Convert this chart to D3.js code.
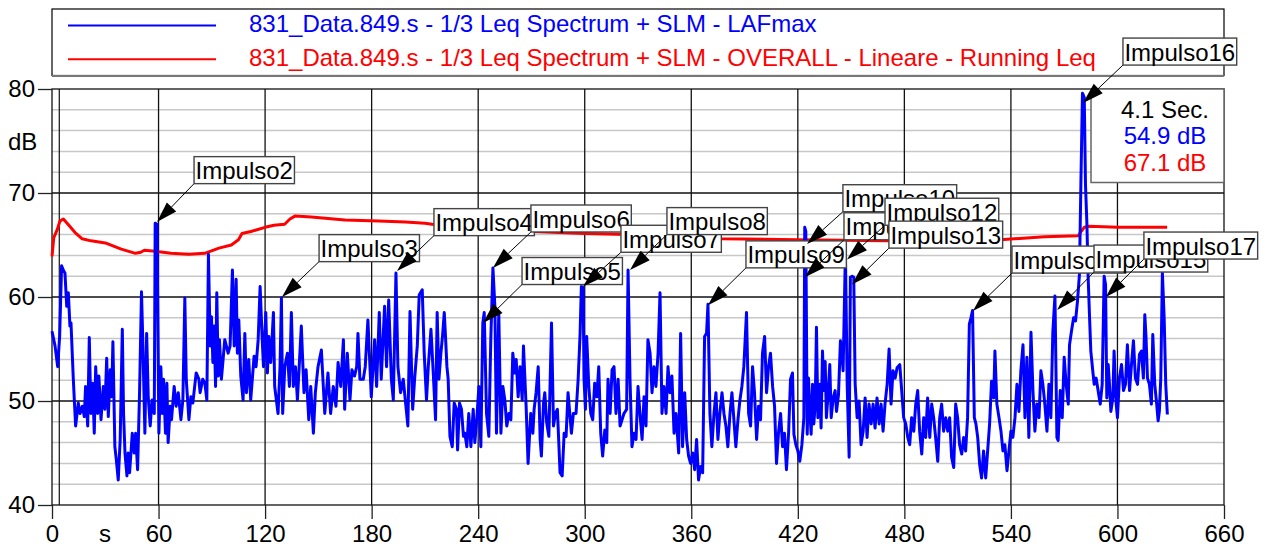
<!DOCTYPE html>
<html>
<head>
<meta charset="utf-8">
<style>

body {
  margin: 0;
  background-color: #fff;
}

svg {
  font-family: "Liberation Sans", Arial, sans-serif;
}

.grid-minor line {
  stroke: #c8c8c8;
  stroke-width: 1.5;
}

.grid-major line {
  stroke: #111;
  stroke-width: 1.3;
}

.axis path {
  display: none;
}

.axis line {
  stroke: #222;
  stroke-width: 1.3;
}

.axis text {
  font-size: 24px;
  fill: #000;
}

</style>
</head>
<body>
<svg width="1272" height="548"></svg>
<script src="https://d3js.org/d3.v7.min.js"></script>
<script>
// tick values
var xTicks = [0, 60, 120, 180, 240, 300, 360, 420, 480, 540, 600, 660];
var yTicks = [40, 50, 60, 70, 80];
var yMinor = [42, 44, 46, 48, 52, 54, 56, 58, 62, 64, 66, 68, 72, 74, 76, 78];

var seriesNames = [
  "831_Data.849.s - 1/3 Leq Spectrum + SLM - LAFmax",
  "831_Data.849.s - 1/3 Leq Spectrum + SLM - OVERALL - Lineare - Running Leq"
];
var seriesColors = ["#0000ff", "#ff0000"];

// LAFmax [s, dB]
var lafmax = [
[0,56.7],[1.7,55.3],[3.2,53.3],[4.3,56.2],[5.4,63.0],[6.6,62.5],[7.3,62.3],[8.3,59.1],[9.2,60.4],[10.1,57.2],
[10.7,57.5],[12.0,52.1],[13.3,47.6],[14.8,49.8],[15.8,48.8],[17.1,49.5],[18.2,48.5],[18.9,51.4],[20.1,47.6],[21.0,56.1],
[21.9,48.8],[22.9,51.7],[23.8,46.9],[24.6,53.3],[25.7,48.8],[26.4,52.4],[27.6,48.2],[28.9,51.4],[29.8,49.2],[30.8,54.1],
[31.7,48.5],[32.8,53.0],[33.6,50.4],[34.3,55.7],[35.4,45.6],[36.2,44.4],[37.3,42.4],[38.4,46.3],[39.6,56.9],[40.3,48.8],
[41.1,45.0],[42.2,42.8],[42.9,45.0],[43.7,43.1],[45.2,46.9],[46.3,45.0],[47.1,46.9],[48.2,43.4],[49.3,50.8],[50.4,60.5],
[51.2,55.3],[52.3,46.9],[53.3,56.5],[54.2,50.4],[55.3,47.6],[56.4,50.1],[57.6,48.8],[58.1,67.1],[59.1,67.0],[60.2,46.9],
[61.3,53.3],[62.1,48.8],[62.8,52.1],[63.9,46.9],[64.7,51.7],[65.4,46.0],[66.6,49.5],[67.3,48.2],[68.8,51.4],[69.9,49.5],
[71.1,50.8],[72.6,48.2],[73.7,50.1],[74.8,59.9],[75.6,52.1],[77.1,48.2],[78.2,50.4],[79.3,49.8],[81.2,52.7],[82.7,52.1],
[83.4,50.8],[84.9,52.1],[86.1,51.7],[87.2,50.1],[88.1,64.1],[89.1,55.3],[89.8,58.1],[90.6,53.7],[91.3,57.2],[92.1,51.4],
[92.8,60.4],[93.6,52.4],[94.3,55.9],[95.4,52.1],[97.3,55.9],[99.2,54.6],[100.3,55.3],[101.6,62.6],[102.6,55.3],[103.7,61.7],
[104.4,54.6],[105.2,57.8],[106.3,52.4],[107.6,50.1],[108.6,56.5],[109.5,50.8],[110.8,54.0],[111.9,50.1],[113.8,54.3],[114.9,53.3],
[116.1,55.9],[117.2,61.0],[118.3,56.2],[119.1,53.3],[120.4,58.5],[121.3,52.7],[122.1,56.2],[123.2,53.7],[124.7,58.5],[125.4,51.4],
[127.3,48.8],[128.4,53.3],[129.2,59.9],[129.9,48.8],[131.1,53.3],[132.6,54.6],[133.7,51.4],[134.8,58.5],[135.9,51.4],[137.1,53.3],
[138.2,50.1],[140.4,57.2],[141.9,50.8],[143.1,53.0],[144.6,48.2],[145.7,51.4],[147.2,46.9],[148.3,50.8],[149.8,53.3],[151.7,54.9],
[153.6,48.8],[155.4,52.7],[156.9,48.8],[158.4,51.4],[159.9,49.5],[161.1,53.7],[162.6,51.4],[164.1,55.9],[164.8,49.2],[166.3,54.6],
[167.8,50.1],[168.9,53.0],[170.4,52.4],[171.6,53.3],[172.3,56.5],[173.4,52.1],[175.3,52.1],[176.4,53.3],[177.9,57.8],[179.8,50.4],
[181.7,55.9],[182.8,51.4],[184.3,58.5],[185.4,52.1],[187.3,59.1],[188.4,53.3],[189.6,59.7],[191.1,52.1],[192.2,50.1],[193.7,62.3],
[194.8,53.3],[196.3,50.8],[197.8,52.1],[199.3,49.5],[200.4,47.6],[201.6,58.6],[203.1,49.2],[204.2,52.1],[205.7,55.3],[206.8,60.2],
[208.5,60.7],[209.6,54.6],[210.9,50.1],[211.9,53.3],[213.4,56.9],[214.7,52.7],[216.0,48.2],[216.9,58.5],[217.9,52.1],[219.0,54.6],
[219.9,56.2],[220.9,58.5],[221.6,56.2],[222.4,53.3],[223.1,52.1],[224.1,46.6],[225.4,45.6],[226.5,49.8],[227.8,49.2],[228.4,45.3],
[229.5,49.8],[230.6,49.2],[231.7,46.6],[232.5,46.9],[233.6,45.6],[234.7,48.8],[235.9,45.6],[237.2,49.2],[238.1,46.0],[239.2,48.2],
[240.4,51.4],[241.5,45.6],[242.6,57.5],[243.4,58.5],[244.7,48.8],[246.0,46.6],[247.1,55.9],[248.3,62.8],[249.4,59.1],[250.3,46.9],
[251.6,58.5],[252.8,46.9],[253.9,51.4],[255.0,50.1],[256.1,47.6],[257.3,48.8],[258.4,48.2],[259.5,54.6],[260.6,52.7],[261.4,54.0],
[262.5,50.4],[263.6,53.3],[264.8,50.1],[265.5,55.3],[267.0,49.5],[268.1,44.0],[269.6,48.8],[270.8,46.9],[271.5,49.2],[272.6,50.8],
[273.8,53.3],[274.9,46.3],[275.6,44.7],[276.8,49.8],[277.5,50.8],[278.6,47.9],[279.8,46.6],[281.3,57.5],[282.4,47.6],[283.5,48.8],
[284.6,49.2],[285.4,46.0],[286.1,43.1],[287.3,42.8],[288.4,46.9],[289.5,46.6],[290.6,50.8],[292.5,46.9],[293.6,48.8],[295.1,48.8],
[296.3,52.1],[297.4,56.5],[298.1,61.0],[299.1,60.9],[299.6,52.1],[300.4,49.2],[301.1,56.2],[302.3,51.4],[303.4,48.8],[304.5,48.2],
[305.6,51.7],[306.8,50.4],[307.9,53.3],[309.0,46.9],[310.1,44.7],[311.3,47.2],[312.4,46.0],[313.1,52.1],[314.3,48.8],[315.4,53.0],
[316.5,53.3],[317.6,48.8],[318.8,52.1],[319.9,47.6],[321.0,48.2],[322.1,48.8],[323.6,49.2],[324.4,62.6],[325.5,52.1],[326.6,45.6],
[327.8,46.9],[328.9,46.3],[330.0,51.4],[331.1,48.8],[332.3,46.3],[333.4,50.4],[334.5,47.6],[335.6,55.9],[336.8,54.6],[337.9,50.8],
[339.0,53.3],[340.1,51.4],[341.3,54.6],[342.4,60.4],[343.5,48.8],[344.6,51.4],[345.8,48.8],[346.9,53.3],[348.0,50.8],[349.1,52.4],
[350.3,46.9],[351.4,48.8],[352.9,45.0],[354.0,56.5],[355.1,45.6],[356.3,50.8],[357.4,46.3],[358.5,44.7],[359.6,44.0],[360.8,45.0],
[361.9,43.4],[363.0,46.3],[364.1,42.4],[365.3,43.7],[366.4,43.1],[367.5,56.2],[368.6,56.5],[369.4,59.3],[370.5,48.8],[371.6,45.6],
[372.8,48.8],[373.9,50.8],[375.0,46.3],[376.1,48.8],[377.3,50.8],[378.4,48.8],[379.5,47.6],[380.6,45.6],[381.8,48.8],[382.9,50.8],
[384.0,48.2],[385.1,45.6],[386.3,48.2],[387.4,50.1],[388.5,51.4],[389.6,53.3],[391.1,58.5],[392.3,48.8],[393.4,47.6],[394.5,53.3],
[395.6,50.8],[396.8,46.3],[397.9,49.5],[399.0,48.2],[400.1,54.6],[401.3,56.2],[402.4,50.8],[403.5,53.3],[404.6,54.6],[405.8,51.4],
[406.9,49.5],[408.0,44.0],[409.1,46.9],[410.3,48.8],[411.4,45.6],[412.5,46.9],[413.6,43.4],[414.8,46.9],[415.9,52.1],[417.0,52.7],
[417.8,46.8],[418.9,45.8],[420.0,45.2],[421.1,44.2],[422.3,45.8],[423.4,48.4],[423.9,66.7],[424.5,66.3],[425.3,46.8],[426.0,52.2],
[426.8,49.0],[427.5,46.8],[428.3,51.6],[429.0,47.8],[429.8,49.7],[430.5,57.1],[431.3,48.4],[432.4,51.6],[433.1,47.4],[433.9,54.8],
[434.6,51.0],[435.4,53.8],[436.1,48.4],[436.9,50.3],[438.0,53.5],[438.8,48.4],[439.9,50.3],[441.0,51.0],[441.8,49.0],[442.9,50.6],
[444.0,55.8],[444.8,54.8],[445.5,52.9],[446.8,64.3],[447.8,51.6],[448.9,44.6],[449.6,61.9],[450.6,62.0],[451.5,61.9],[452.3,51.6],
[453.4,48.4],[454.5,50.0],[455.6,45.8],[456.8,47.1],[457.9,50.3],[459.0,46.5],[460.1,49.7],[461.3,47.8],[462.4,49.7],[463.5,47.4],
[464.6,50.3],[465.8,47.8],[466.9,49.7],[468.0,47.1],[469.1,49.7],[470.3,51.6],[471.4,55.0],[472.5,49.7],[473.6,52.9],[474.8,52.2],
[475.9,53.2],[477.4,53.5],[478.5,51.0],[479.6,48.4],[480.8,47.8],[481.9,46.5],[483.0,45.8],[484.1,48.4],[485.3,47.1],[486.4,49.7],
[487.5,51.0],[488.6,47.1],[489.8,44.9],[490.9,48.4],[492.0,46.5],[493.1,50.3],[494.3,46.5],[495.4,49.7],[496.5,48.4],[497.6,46.5],
[498.8,44.2],[499.9,48.4],[501.0,49.7],[502.1,47.1],[503.3,48.4],[504.4,47.1],[505.5,48.4],[506.6,44.6],[507.8,43.6],[508.9,49.7],
[510.0,48.4],[511.1,45.8],[512.3,44.9],[513.4,46.5],[514.5,45.2],[515.6,48.4],[516.6,57.4],[517.5,58.0],[518.4,58.7],[519.4,48.4],
[520.3,47.8],[521.3,46.5],[522.4,43.9],[523.5,42.6],[524.6,45.2],[525.8,42.6],[526.9,45.2],[528.0,47.8],[529.1,51.9],[530.3,50.3],
[531.0,54.8],[532.1,49.7],[533.3,48.4],[534.4,47.1],[535.5,45.2],[536.6,45.8],[537.8,43.3],[538.9,45.2],[540.0,47.1],[541.1,46.5],
[542.3,48.4],[543.4,51.6],[544.5,49.0],[545.6,52.9],[546.8,55.4],[547.9,48.4],[549.0,54.2],[550.1,46.5],[551.3,56.6],[552.4,51.0],
[553.5,47.1],[554.6,49.7],[555.8,48.4],[556.9,52.9],[558.0,51.6],[559.1,49.7],[560.3,47.1],[561.4,51.6],[562.5,48.4],[563.6,56.6],
[564.8,60.1],[565.9,46.5],[566.6,46.2],[567.8,51.0],[568.9,48.4],[570.0,54.2],[571.1,51.6],[572.3,49.7],[573.0,55.4],[574.1,56.7],
[575.3,58.0],[576.4,57.7],[577.5,59.6],[578.6,62.2],[579.4,70.8],[580.3,79.6],[581.3,79.2],[582.0,70.8],[582.8,67.0],[583.5,61.9],
[584.3,58.0],[585.0,54.8],[586.1,52.9],[586.9,51.6],[588.0,52.2],[589.1,51.0],[590.3,49.7],[591.4,51.6],[592.5,62.0],[593.3,61.2],
[594.0,50.3],[594.8,53.5],[595.5,51.6],[596.3,49.0],[597.4,50.3],[598.1,54.8],[599.3,49.7],[600.0,48.4],[601.1,52.2],[602.3,53.5],
[603.4,51.0],[604.5,51.6],[605.6,55.4],[606.8,51.0],[607.9,53.5],[609.0,55.8],[610.1,52.2],[611.3,51.6],[612.4,54.5],[613.5,54.8],
[614.6,52.2],[615.4,58.3],[616.1,56.1],[616.9,52.2],[618.0,51.6],[619.1,49.7],[619.9,56.4],[621.0,51.6],[622.1,49.7],[622.9,48.1],
[623.6,49.0],[624.4,52.2],[625.3,62.3],[626.3,58.0],[627.2,51.6],[628.1,48.7]
];

// Running Leq [s, dB]
var runningLeq = [
[0,63.9],[1,65.7],[3,66.5],[4.5,67.3],[6.4,67.5],[9,67.0],[13,66.2],[17,65.6],[22,65.4],[30,65.2],
[39,64.6],[47,64.2],[50,64.3],[52,64.5],[58,64.4],[67,64.2],[77,64.1],[86,64.2],[94,64.7],[101,65.0],
[105,65.5],[107,66.1],[112,66.3],[120,66.7],[125,66.9],[131,67.0],[134,67.5],[137,67.8],[146,67.7],[165,67.4],
[184,67.3],[199,67.2],[210,67.1],[214,67.0],[240,66.6],[270,66.3],[300,66.1],[324,66.0],[350,65.8],[377,65.6],
[420,65.5],[470,65.4],[534,65.5],[559,65.8],[578,65.9],[579.5,66.3],[581.3,66.7],[584,66.8],[600,66.7],[628,66.7]
];

// impulse markers: name, time of the marked peak, level at the arrow tip
var impulseNames = ["Impulso2","Impulso3","Impulso4","Impulso5","Impulso6","Impulso7","Impulso8","Impulso9",
  "Impulso10","Impulso11","Impulso12","Impulso13","Impulso14","Impulso15","Impulso16","Impulso17"];
var impulseTimes = [59.1, 129.5, 194.3, 242.7, 248.3, 299.0, 325.5, 369.4, 425.2, 424.0, 447.7, 450.5, 518.6, 566.0, 580.6, 593.5];
var impulseLevels = [67.2, 60.0, 62.5, 57.5, 62.8, 61.0, 62.6, 59.2, 65.1, 61.9, 63.6, 61.2, 58.65, 58.75, 78.65, 60.0];

// where each label box sits (lower-left corner, in s / dB)
var labelTimes = [80.0, 150.4, 215.1, 264.7, 269.7, 320.4, 346.3, 390.8, 445.4, 446.0, 469.1, 471.3, 540.6, 586.8, 603.1, 614.9];
var labelLevels = [70.9, 63.4, 65.9, 61.2, 66.25, 64.3, 66.0, 62.8, 68.2, 65.5, 66.9, 64.7, 62.3, 62.4, 82.3, 63.65];

// cursor readout
var cursorTime = 4.1;
var cursorTexts = ["4.1 Sec.", "54.9 dB", "67.1 dB"];
var cursorColors = ["#000", "#0000ff", "#ff0000"];

var svg = d3.select("svg");

var x = d3.scaleLinear().domain([0, 660]).range([52, 1224]);
var y = d3.scaleLinear().domain([40, 80]).range([505, 89]);

// legend
var legend = svg.append("g");
legend.append("rect")
    .attr("x", 52).attr("y", 9).attr("width", 1172).attr("height", 66.5)
    .attr("fill", "#fff").attr("stroke", "#000").attr("stroke-width", 1.2);
legend.append("line")
    .attr("x1", 52).attr("x2", 1224).attr("y1", 76).attr("y2", 76)
    .attr("stroke", "#777").attr("stroke-width", 2);

var legendItem = legend.selectAll(".item")
  .data(seriesNames)
  .enter().append("g")
    .attr("class", "item")
    .attr("transform", function(d, i) { return "translate(0," + (25.5 + i * 33.7) + ")"; });

legendItem.append("line")
    .attr("x1", 68).attr("x2", 216)
    .attr("stroke", function(d, i) { return seriesColors[i]; })
    .attr("stroke-width", 2);

legendItem.append("text")
    .attr("x", 249).attr("y", 6.5)
    .style("font-size", "24px")
    .attr("fill", function(d, i) { return seriesColors[i]; })
    .text(function(d) { return d; });

// grid
svg.append("g").attr("class", "grid-minor")
  .selectAll("line").data(yMinor)
  .enter().append("line")
    .attr("x1", x(0)).attr("x2", x(660))
    .attr("y1", function(d) { return y(d); }).attr("y2", function(d) { return y(d); });

var grid = svg.append("g").attr("class", "grid-major");
grid.selectAll(".v").data(xTicks.slice(1, -1))
  .enter().append("line")
    .attr("y1", y(40)).attr("y2", y(80))
    .attr("x1", function(d) { return x(d); }).attr("x2", function(d) { return x(d); });
grid.selectAll(".h").data(yTicks.slice(1, -1))
  .enter().append("line")
    .attr("x1", x(0)).attr("x2", x(660))
    .attr("y1", function(d) { return y(d); }).attr("y2", function(d) { return y(d); });

svg.append("rect")
    .attr("x", x(0)).attr("y", y(80))
    .attr("width", x(660) - x(0)).attr("height", y(40) - y(80))
    .attr("fill", "none").attr("stroke", "#111").attr("stroke-width", 1.3);

// cursor
svg.append("line")
    .attr("x1", x(cursorTime)).attr("x2", x(cursorTime))
    .attr("y1", y(80)).attr("y2", y(40))
    .attr("stroke", "#111").attr("stroke-width", 1.2);

// axes
svg.append("g")
    .attr("class", "axis")
    .attr("transform", "translate(0," + y(40) + ")")
    .call(d3.axisBottom(x).tickValues(xTicks).tickSize(14).tickPadding(6));

svg.append("g")
    .attr("class", "axis")
    .attr("transform", "translate(" + x(0) + ",0)")
    .call(d3.axisLeft(y).tickValues(yTicks).tickSize(14).tickPadding(3));

svg.append("text")
    .attr("x", 105).attr("y", 542)
    .attr("text-anchor", "middle")
    .style("font-size", "24px")
    .text("s");

svg.append("text")
    .attr("x", 8).attr("y", 150)
    .style("font-size", "24px")
    .text("dB");

// series
var line = d3.line()
    .x(function(d) { return x(d[0]); })
    .y(function(d) { return y(d[1]); });

svg.append("path")
    .datum(runningLeq)
    .attr("fill", "none")
    .attr("stroke", seriesColors[1])
    .attr("stroke-width", 3)
    .attr("stroke-linejoin", "round")
    .attr("d", line);

svg.append("path")
    .datum(lafmax)
    .attr("fill", "none")
    .attr("stroke", seriesColors[0])
    .attr("stroke-width", 3)
    .attr("stroke-linejoin", "round")
    .attr("d", line);

// cursor readout box
var readout = svg.append("g");
readout.append("rect")
    .attr("x", 1091).attr("y", y(80))
    .attr("width", x(660) - 1091).attr("height", 93.5)
    .attr("fill", "#fff").attr("stroke", "#666").attr("stroke-width", 1.5);
readout.selectAll("text").data(cursorTexts)
  .enter().append("text")
    .attr("x", 1165)
    .attr("y", function(d, i) { return 118 + i * 26.3; })
    .attr("text-anchor", "middle")
    .style("font-size", "24px")
    .attr("fill", function(d, i) { return cursorColors[i]; })
    .text(function(d) { return d; });

// impulse labels with arrows
var notes = svg.append("g");
impulseNames.forEach(function(name, i) {
  var g = notes.append("g");
  var x0 = x(labelTimes[i]), y0 = y(labelLevels[i]);
  var x1 = x(impulseTimes[i]), y1 = y(impulseLevels[i]);
  var dx = x1 - x0, dy = y1 - y0, len = Math.sqrt(dx * dx + dy * dy);
  var ux = dx / len, uy = dy / len;
  var headLen = 21, headW = 6.5;
  var bx = x1 - ux * headLen, by = y1 - uy * headLen;

  g.append("line")
      .attr("x1", x0).attr("y1", y0).attr("x2", bx).attr("y2", by)
      .attr("stroke", "#000").attr("stroke-width", 1);
  g.append("path")
      .attr("d", "M" + x1 + "," + y1 +
                 "L" + (bx - uy * headW) + "," + (by + ux * headW) +
                 "L" + (bx + uy * headW) + "," + (by - ux * headW) + "Z")
      .attr("fill", "#000");

  var box = g.append("rect")
      .attr("x", x0).attr("y", y0 - 27)
      .attr("height", 27)
      .attr("fill", "#fff").attr("stroke", "#444").attr("stroke-width", 1.4);
  var t = g.append("text")
      .attr("x", x0 + 1.5).attr("y", y0 - 4.5)
      .style("font-size", "24px")
      .text(name);
  box.attr("width", t.node().getComputedTextLength() + 3);
});

</script>
</body>
</html>
